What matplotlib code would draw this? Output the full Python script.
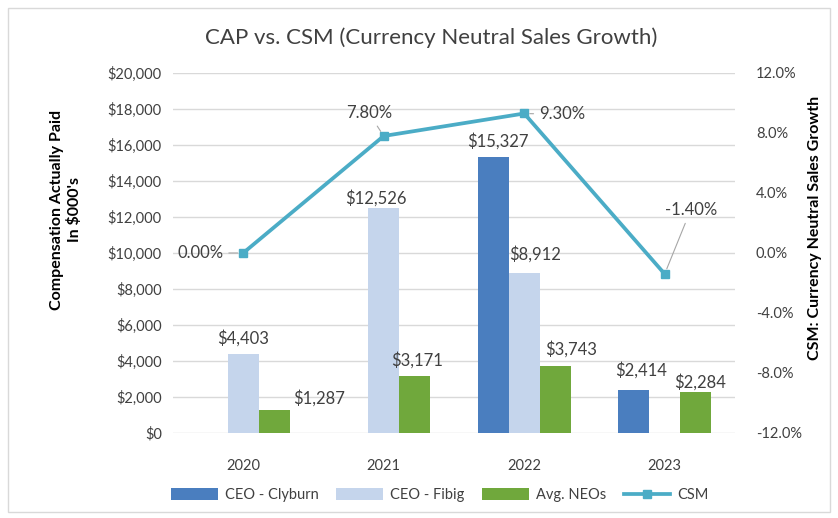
import numpy as np
import matplotlib.pyplot as plt
from matplotlib.patches import Rectangle
from matplotlib.ticker import FuncFormatter

plt.rcParams['font.family'] = ['Lato', 'DejaVu Sans']

years = ['2020', '2021', '2022', '2023']
clyburn = [np.nan, np.nan, 15327, 2414]
fibig = [4403, 12526, 8912, np.nan]
neos = [1287, 3171, 3743, 2284]
csm = [0.0, 7.8, 9.3, -1.4]

# label offsets (pixels) from bar top / point, tuned to the reference
off_clyburn = [None, None, (5, 16), (7, 19)]
off_fibig = [(0, 16), (-8, 9), (11, 18), None]
off_neos = [(45, 12), (2, 16), (16, 16), (4, 10)]
off_csm = [(-43, 0), (-15, 23), (38, -1), (26, 64)]

c_cly = '#4a7ebf'
c_fib = '#c5d5ec'
c_neo = '#70a83c'
c_csm = '#4bacc6'
txt = '#404040'
grid = '#d9d9d9'

fig = plt.figure(figsize=(8.38, 5.18), dpi=100)
ax = fig.add_axes([0.2064, 0.1641, 0.6706, 0.695])
ax2 = ax.twinx()

x = np.arange(len(years))
w = 0.22
series = [(clyburn, c_cly, 'CEO - Clyburn', -w, off_clyburn),
          (fibig, c_fib, 'CEO - Fibig', 0, off_fibig),
          (neos, c_neo, 'Avg. NEOs', w, off_neos)]
handles = []
for vals, col, lab, dx, offs in series:
    b = ax.bar(x + dx, vals, w, color=col, label=lab, zorder=2)
    handles.append(b)
    for xi, v, o in zip(x + dx, vals, offs):
        if o is None or np.isnan(v):
            continue
        ax.annotate('${:,.0f}'.format(v), (xi, v), xytext=o,
                    textcoords='offset pixels', ha='center', va='center',
                    fontsize=12, color=txt)

ax.set_xlim(-0.5, 3.5)
ax.set_ylim(0, 20000)
ax.set_yticks(np.arange(0, 20001, 2000))
ax.yaxis.set_major_formatter(FuncFormatter(lambda v, p: '${:,.0f}'.format(v)))
ax.set_xticks(x)
ax.set_xticklabels(years)
ax.grid(axis='y', color=grid, lw=1, zorder=0)
ax.set_axisbelow(True)
for s in ax.spines.values():
    s.set_visible(False)
for s in ax2.spines.values():
    s.set_visible(False)
ax.tick_params(axis='both', length=0, labelsize=10.5, colors=txt)
ax.tick_params(axis='y', pad=8)
ax.tick_params(axis='x', pad=19)

ln, = ax2.plot(x, csm, color=c_csm, lw=2.7, marker='s', ms=6, label='CSM', zorder=3)
ax2.set_ylim(-12, 12)
ax2.set_yticks(np.arange(-12, 12.1, 4))
ax2.yaxis.set_major_formatter(FuncFormatter(lambda v, p: '{:.1f}%'.format(v)))
ax2.tick_params(axis='y', length=0, labelsize=10.5, colors=txt, pad=15)
for xi, v, o in zip(x, csm, off_csm):
    ax2.annotate('{:.2f}%'.format(v), (xi, v), xytext=o,
                 textcoords='offset pixels', ha='center', va='center',
                 fontsize=12, color=txt,
                 arrowprops=dict(arrowstyle='-', color='#a6a6a6', lw=0.8,
                                 shrinkA=2, shrinkB=4))

ax.set_ylabel("Compensation Actually Paid\nIn $000's", fontsize=11.5,
              fontweight='bold', color='black', linespacing=1.25)
ax.yaxis.set_label_coords(-0.162, 0.62)
ax2.set_ylabel('CSM: Currency Neutral Sales Growth', fontsize=11.5,
               fontweight='bold', color='black', rotation=90)
ax2.yaxis.set_label_coords(1.13, 0.569)

fig.text(0.514, 0.927, 'CAP vs. CSM (Currency Neutral Sales Growth)',
         ha='center', va='center', fontsize=16, color=txt)

fig.legend(handles + [ln], [h.get_label() for h in handles] + ['CSM'],
           loc='center', bbox_to_anchor=(0.525, 0.044), ncol=4, frameon=False,
           fontsize=10.5, handlelength=3.2, handleheight=0.9, columnspacing=1.2,
           handletextpad=0.5, labelcolor=txt)

fig.patches.append(Rectangle((8 / 838, 6 / 518), 822 / 838, 504 / 518,
                             transform=fig.transFigure, fill=False,
                             edgecolor=grid, lw=1))

fig.savefig('out.png', dpi=100)
